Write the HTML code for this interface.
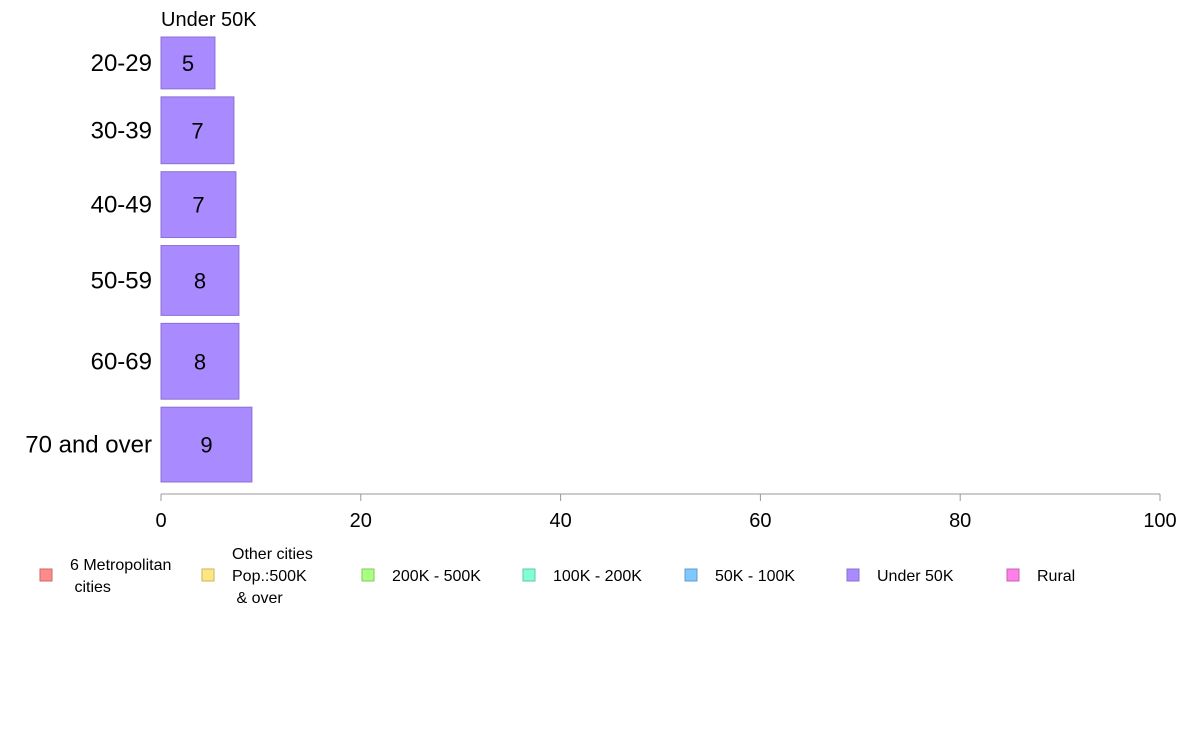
<!DOCTYPE html>
<html><head><meta charset="utf-8"><style>
body{margin:0;background:#fff;width:1188px;height:736px;overflow:hidden;font-family:"Liberation Sans",Arial,sans-serif}
</style></head><body>
<svg id="c" width="1188" height="736" xmlns="http://www.w3.org/2000/svg" font-family="Liberation Sans, Arial, sans-serif">
<text x="161" y="26" font-size="20" fill="#000">Under 50K</text>
</svg>
<script>
const categories=["20-29","30-39","40-49","50-59","60-69","70 and over"];
const values=[5.4,7.3,7.5,7.8,7.8,9.1];
const labels=["5","7","7","8","8","9"];
const weights=[52,67,66,70,76,75];
const ticks=[0,20,40,60,80,100];
const legendNames=[["6 Metropolitan"," cities"],["Other cities","Pop.:500K"," & over"],["200K - 500K"],["100K - 200K"],["50K - 100K"],["Under 50K"],["Rural"]];
const legendColors=["#FF8A8A","#FFE680","#A8FF80","#80FFD0","#80C8FF","#A98BFF","#FF80E8"];
const legendBorders=["#c86a6a","#c8b460","#80c860","#60c8a0","#609cc8","#8a70d0","#c860b4"];

const svg=document.getElementById('c');
const NS="http://www.w3.org/2000/svg";
const x0=161,x1=1160,yTop=37,yBot=482,gap=8;
const xs=v=>x0+(v-0)/(100-0)*(x1-x0);
function mk(t,a){const e=document.createElementNS(NS,t);for(const k in a)e.setAttribute(k,a[k]);svg.appendChild(e);return e;}
const totalW=weights.reduce((a,b)=>a+b,0);
const scaleH=(yBot-yTop-gap*(weights.length-1))/totalW;
let y=yTop;
categories.forEach((c,i)=>{
  const h=weights[i]*scaleH;
  const r=mk('rect',{x:xs(0),y:y,width:xs(values[i])-xs(0),height:h,fill:'#A98BFF',stroke:'#8a70d0','stroke-width':1});
  
  
  const t=mk('text',{x:(xs(0)+xs(values[i]))/2,y:y+h/2+8,'font-size':22,'text-anchor':'middle',fill:'#000'});
  t.textContent=labels[i];
  
  
  const l=mk('text',{x:152,y:y+h/2+8,'font-size':24,'text-anchor':'end',fill:'#000'});
  l.textContent=c;
  
  
  y+=h+gap;
});
const ax=mk('line',{x1:x0,x2:x1,y1:494,y2:494,stroke:'#999','stroke-width':1});


ticks.forEach(v=>{
  const tk=mk('line',{x1:xs(v),x2:xs(v),y1:494,y2:501,stroke:'#999','stroke-width':1});
  
  
  const t=mk('text',{x:xs(v),y:527,'font-size':20,'text-anchor':'middle',fill:'#000'});
  t.textContent=v;
  
  
});
const lx=[40,202,362,523,685,847,1007];
legendNames.forEach((n,i)=>{
  const s=mk('rect',{x:lx[i],y:569,width:12,height:12,fill:legendColors[i],stroke:legendBorders[i],'stroke-width':1});
  
  
  const t=mk('text',{x:lx[i]+30,'font-size':16,fill:'#000'});
  
  
  const startY=581-(n.length-1)*11;
  n.forEach((line,j)=>{
    const ts=document.createElementNS(NS,'tspan');
    ts.setAttribute('x',lx[i]+30);
    ts.setAttribute('y',startY+j*22);
    ts.setAttribute('xml:space','preserve');
    ts.textContent=line;
    t.appendChild(ts);
  });
});
</script>
</body></html>
